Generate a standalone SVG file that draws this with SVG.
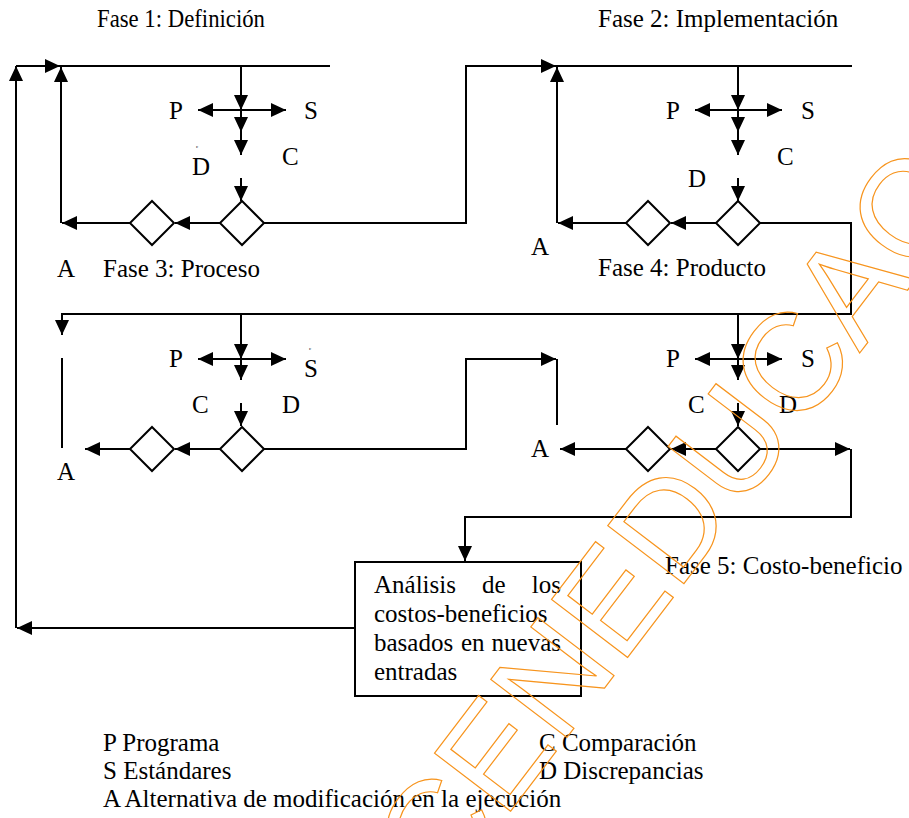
<svg xmlns="http://www.w3.org/2000/svg" width="909" height="818" viewBox="0 0 909 818">
<style>
.t{font-family:"Liberation Serif","Times New Roman",serif;font-size:25px;fill:#000}
.tiny{font-family:"Liberation Serif",serif;font-size:5px;fill:#000}
.ln{fill:none;stroke:#000;stroke-width:2}
.ar{fill:none;stroke:#000;stroke-width:2;marker-end:url(#ah)}
.dm{fill:#fff;stroke:#000;stroke-width:2}
.wm{font-family:"Liberation Sans",Arial,sans-serif;font-size:139px;fill:none;stroke:#f7941d;stroke-width:1.2}
</style>
<defs>
<marker id="ah" markerUnits="userSpaceOnUse" markerWidth="15" markerHeight="14" refX="15" refY="7" orient="auto-start-reverse">
<path d="M0,0 L15,7 L0,14 z" fill="#000"/>
</marker>
</defs>
<rect width="909" height="818" fill="#fff"/>

<g id="connectors">
<path class="ar" d="M355,628 H17"/>
<path class="ar" d="M16,628 V66"/>
<path class="ar" d="M16,66 H60"/>
<path class="ln" d="M60,66 H330"/>
<path class="ar" d="M130,223 H62"/>
<path class="ar" d="M61,223 V67"/>
<path class="ar" d="M220,223 H175"/>
<path class="ar" d="M264,223 H466 V66 H556"/>
<path class="ln" d="M556,66 H852"/>
<path class="ar" d="M626,223 H558"/>
<path class="ar" d="M557,223 V67"/>
<path class="ar" d="M716,223 H671"/>
<path class="ar" d="M760,223 H851 V314 H62 V335"/>
<path class="ln" d="M62,358 V448"/>
<path class="ar" d="M220,449 H175"/>
<path class="ar" d="M130,449 H85"/>
<path class="ar" d="M264,449 H466 V359 H556"/>
<path class="ln" d="M557,359 V425"/>
<path class="ar" d="M626,449 H560"/>
<path class="ar" d="M716,449 H671"/>
<path class="ar" d="M760,449 H850"/>
<path class="ar" d="M851,449 V517 H465 V561"/>
</g>

<g id="fase1">
<text class="t" x="97" y="27" textLength="168" lengthAdjust="spacingAndGlyphs">Fase 1: Definición</text>
<path class="ar" d="M241,66 V110"/>
<path class="ar" d="M241,110 V132"/>
<path class="ar" d="M241,132 V155"/>
<path class="ar" d="M241,178 V201"/>
<path class="ar" d="M241,110 H198"/>
<path class="ar" d="M241,110 H286"/>
<text class="t" x="169" y="119">P</text>
<text class="t" x="304" y="119">S</text>
<text class="tiny" x="196" y="148">c</text>
<text class="t" x="192" y="175">D</text>
<text class="t" x="282" y="165">C</text>
<polygon class="dm" points="242,201 264,223 242,245 220,223"/>
<polygon class="dm" points="152,201 174,223 152,245 130,223"/>
</g>

<g id="fase2">
<text class="t" x="598" y="27">Fase 2: Implementación</text>
<path class="ar" d="M738,66 V110"/>
<path class="ar" d="M738,110 V132"/>
<path class="ar" d="M738,132 V155"/>
<path class="ar" d="M738,178 V201"/>
<path class="ar" d="M738,110 H695"/>
<path class="ar" d="M738,110 H782"/>
<text class="t" x="666" y="119">P</text>
<text class="t" x="801" y="119">S</text>
<text class="t" x="777" y="165">C</text>
<text class="t" x="688" y="187">D</text>
<text class="t" x="531" y="255">A</text>
<polygon class="dm" points="738,201 760,223 738,245 716,223"/>
<polygon class="dm" points="648,201 670,223 648,245 626,223"/>
</g>

<g id="fase3">
<text class="t" x="57" y="277">A</text>
<text class="t" x="103" y="277">Fase 3: Proceso</text>
<path class="ar" d="M241,314 V359"/>
<path class="ar" d="M241,359 V380"/>
<path class="ar" d="M241,403 V426"/>
<path class="ar" d="M241,359 H198"/>
<path class="ar" d="M241,359 H286"/>
<text class="t" x="169" y="367">P</text>
<text class="tiny" x="309" y="350">c</text>
<text class="t" x="304" y="377">S</text>
<text class="t" x="192" y="413">C</text>
<text class="t" x="282" y="413">D</text>
<text class="t" x="57" y="480">A</text>
<polygon class="dm" points="242,427 264,449 242,471 220,449"/>
<polygon class="dm" points="152,427 174,449 152,471 130,449"/>
</g>

<g id="fase4">
<text class="t" x="598" y="276">Fase 4: Producto</text>
<path class="ar" d="M738,314 V359"/>
<path class="ar" d="M738,359 V380"/>
<path class="ar" d="M738,403 V426"/>
<path class="ar" d="M738,359 H695"/>
<path class="ar" d="M738,359 H782"/>
<text class="t" x="666" y="367">P</text>
<text class="t" x="801" y="367">S</text>
<text class="t" x="688" y="413">C</text>
<text class="t" x="779" y="413">D</text>
<text class="t" x="531" y="457">A</text>
<polygon class="dm" points="738,427 760,449 738,471 716,449"/>
<polygon class="dm" points="648,427 670,449 648,471 626,449"/>
</g>

<g id="fase5">
<text class="t" x="665" y="574">Fase 5: Costo-beneficio</text>
<rect class="ln" x="355" y="562" width="226" height="134" fill="#fff"/>
<text class="t" y="593"><tspan x="374">Análisis</tspan><tspan x="482">de</tspan><tspan x="561" text-anchor="end">los</tspan></text>
<text class="t" x="374" y="622">costos-beneficios</text>
<text class="t" y="651"><tspan x="374">basados</tspan><tspan x="461">en</tspan><tspan x="561" text-anchor="end">nuevas</tspan></text>
<text class="t" x="374" y="680">entradas</text>
</g>

<g id="legend">
<text class="t" x="103" y="751">P Programa</text>
<text class="t" x="103" y="779">S Estándares</text>
<text class="t" x="103" y="807">A Alternativa de modificación en la ejecución</text>
<text class="t" x="539" y="751">C Comparación</text>
<text class="t" x="539" y="779">D Discrepancias</text>
</g>

<g id="watermark">
<text class="wm" transform="translate(443,900) rotate(-52.7)">CENEDUCAC</text>
</g>
</svg>
